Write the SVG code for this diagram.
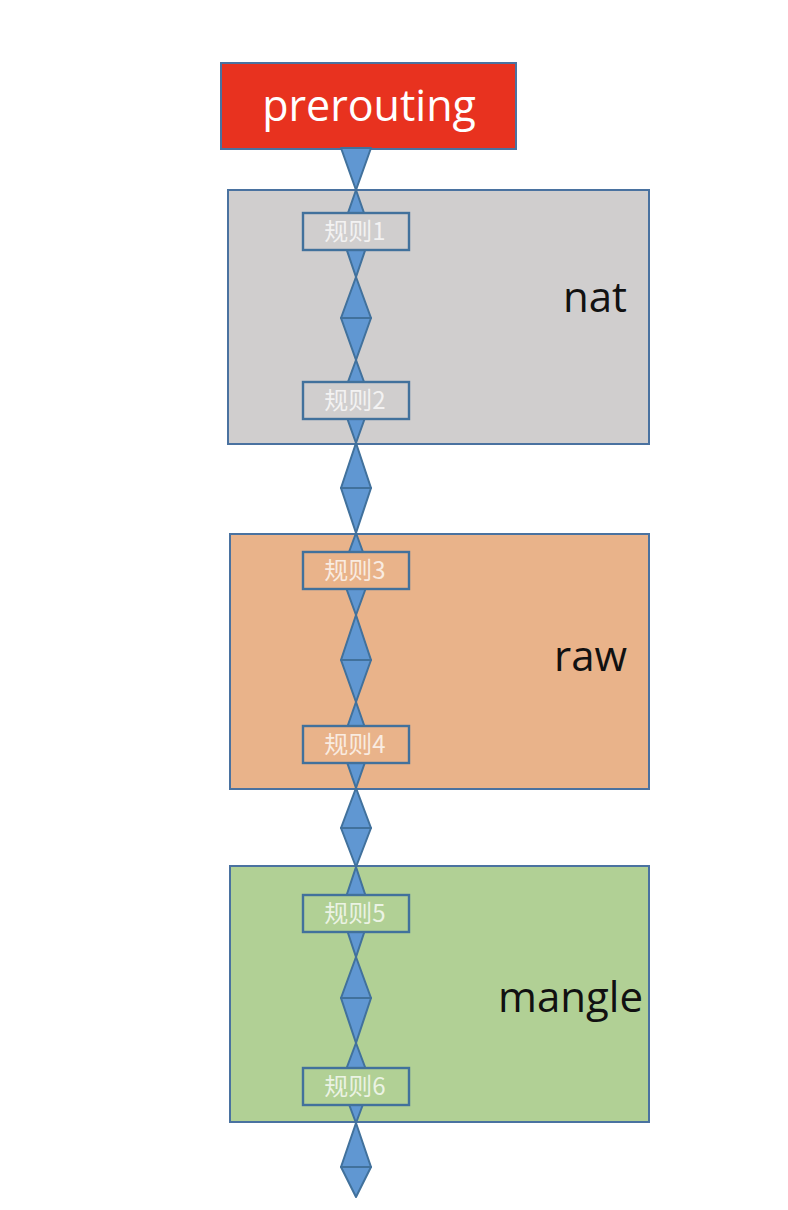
<svg xmlns="http://www.w3.org/2000/svg" width="788" height="1210" viewBox="0 0 788 1210">
<style>
.grp{stroke:#4a72a0;stroke-width:2}
.lbl{font-family:"Open Sans","Liberation Sans",sans-serif;font-size:42px;fill:#111}
.tri{fill:#6097d2;stroke:#41719c;stroke-width:2;stroke-linejoin:round}
.rule{stroke:#41719c;stroke-width:2.4}
.rt{font-family:"Noto Sans CJK SC","Noto Sans",sans-serif;font-size:24px;fill:#ffffff;fill-opacity:0.75;text-anchor:middle}
</style>
<rect width="788" height="1210" fill="#ffffff"/>
<g id="prerouting">
<rect x="221" y="63" width="295" height="86" fill="#e8321f" class="grp"/>
<text x="369" y="121" font-family="'Open Sans','Liberation Sans',sans-serif" font-size="43" fill="#ffffff" text-anchor="middle">prerouting</text>
</g>
<g id="nat">
<rect x="228" y="190" width="421" height="254" fill="#d0cece" class="grp"/>
<text x="563" y="312" class="lbl">nat</text>
</g>
<g id="raw">
<rect x="230" y="534" width="419" height="255" fill="#e9b38a" class="grp"/>
<text x="554" y="671" class="lbl">raw</text>
</g>
<g id="mangle">
<rect x="230" y="866" width="419" height="256" fill="#b1d095" class="grp"/>
<text x="498" y="1012" class="lbl">mangle</text>
</g>
<g id="connectors">
<polygon class="tri" points="341,148 371,148 356,190"/>
<polygon class="tri" points="356,190 371,233 341,233"/><polygon class="tri" points="341,233 371,233 356,277"/>
<polygon class="tri" points="356,277 371,318 341,318"/><polygon class="tri" points="341,318 371,318 356,360"/>
<polygon class="tri" points="356,360 371,401 341,401"/><polygon class="tri" points="341,401 371,401 356,443"/>
<polygon class="tri" points="356,443 371,488 341,488"/><polygon class="tri" points="341,488 371,488 356,533"/>
<polygon class="tri" points="356,533 371,574 341,574"/><polygon class="tri" points="341,574 371,574 356,615"/>
<polygon class="tri" points="356,615 371,660 341,660"/><polygon class="tri" points="341,660 371,660 356,702"/>
<polygon class="tri" points="356,702 371,745 341,745"/><polygon class="tri" points="341,745 371,745 356,788"/>
<polygon class="tri" points="356,788 371,828 341,828"/><polygon class="tri" points="341,828 371,828 356,867"/>
<polygon class="tri" points="356,867 371,912 341,912"/><polygon class="tri" points="341,912 371,912 356,957"/>
<polygon class="tri" points="356,957 371,998 341,998"/><polygon class="tri" points="341,998 371,998 356,1043"/>
<polygon class="tri" points="356,1043 371,1083 341,1083"/><polygon class="tri" points="341,1083 371,1083 356,1123"/>
<polygon class="tri" points="356,1123 371,1167 341,1167"/><polygon class="tri" points="341,1167 371,1167 356,1197"/>
</g>
<g id="rule1"><rect x="303" y="213" width="106" height="37" fill="#d0cece" class="rule"/><text x="355" y="240" class="rt">规则1</text></g>
<g id="rule2"><rect x="303" y="382" width="106" height="37" fill="#d0cece" class="rule"/><text x="355" y="409" class="rt">规则2</text></g>
<g id="rule3"><rect x="303" y="552" width="106" height="37" fill="#e9b38a" class="rule"/><text x="355" y="579" class="rt">规则3</text></g>
<g id="rule4"><rect x="303" y="726" width="106" height="37" fill="#e9b38a" class="rule"/><text x="355" y="753" class="rt">规则4</text></g>
<g id="rule5"><rect x="303" y="895" width="106" height="37" fill="#b1d095" class="rule"/><text x="355" y="922" class="rt">规则5</text></g>
<g id="rule6"><rect x="303" y="1068" width="106" height="37" fill="#b1d095" class="rule"/><text x="355" y="1095" class="rt">规则6</text></g>
</svg>
